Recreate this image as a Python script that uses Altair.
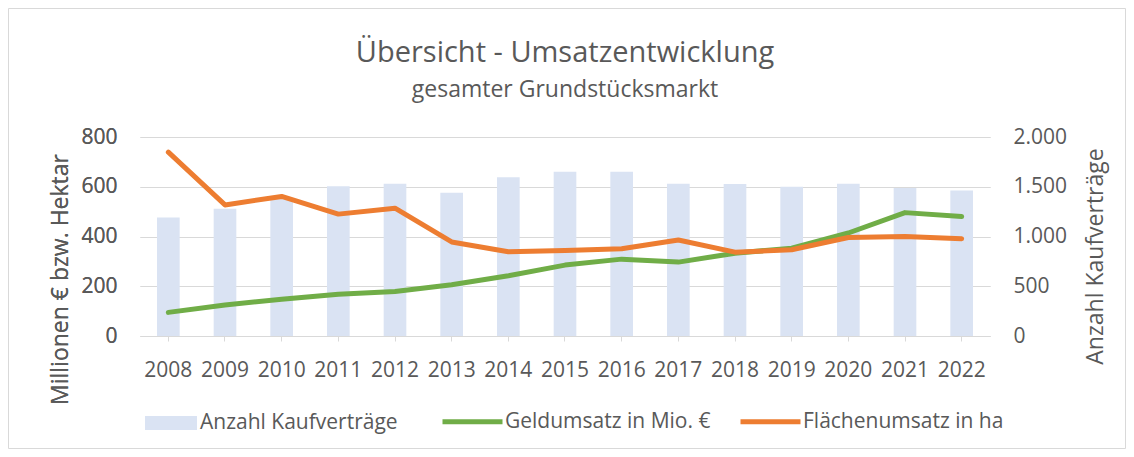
import altair as alt
import pandas as pd

years = [str(y) for y in range(2008, 2023)]
kaufvertraege = [1190, 1280, 1390, 1505, 1530, 1440, 1595, 1650, 1650, 1530, 1528, 1500, 1530, 1488, 1463]
geldumsatz = [95, 125, 148, 168, 179, 206, 242, 285, 309, 297, 333, 353, 414, 496, 480]
flaechenumsatz = [739, 527, 561, 490, 514, 378, 339, 344, 351, 386, 337, 347, 396, 400, 391]
series_names = ["Anzahl Kaufverträge", "Geldumsatz in Mio. €", "Flächenumsatz in ha"]
left_ticks = [0, 200, 400, 600, 800]
right_ticks = [0, 500, 1000, 1500, 2000]

FONT = "Open Sans"
TXT = "#595959"
GRID = "#d9d9d9"

bars_df = pd.DataFrame({"Jahr": years, "Wert": kaufvertraege, "Serie": series_names[0]})
lines_df = pd.concat([
    pd.DataFrame({"Jahr": years, "Wert": geldumsatz, "Serie": series_names[1]}),
    pd.DataFrame({"Jahr": years, "Wert": flaechenumsatz, "Serie": series_names[2]}),
], ignore_index=True)

x_enc = alt.X(
    "Jahr:N",
    title=None,
    sort=years,
    scale=alt.Scale(paddingInner=0.6, paddingOuter=0.3),
    axis=alt.Axis(
        labelAngle=0, labelFont=FONT, labelFontSize=21, labelColor=TXT,
        labelPadding=18, domainColor=GRID, domainWidth=1, tickColor=GRID,
        tickSize=5, grid=False,
    ),
)

bars = alt.Chart(bars_df).mark_bar().encode(
    x=x_enc,
    y=alt.Y(
        "Wert:Q",
        scale=alt.Scale(domain=[0, 2000], nice=False),
        axis=alt.Axis(
            orient="right", title="Anzahl Kaufverträge", values=right_ticks,
            labelExpr="replace(format(datum.value, ','), ',', '.')",
            grid=False, domain=False, ticks=False, labelPadding=23,
            labelFont=FONT, labelFontSize=21, labelColor=TXT,
            titleFont=FONT, titleFontSize=23, titleColor=TXT, titleFontWeight="normal",
            titleAngle=270, titleBaseline="alphabetic", titleAlign="center",
            titleX=112, titleY=119,
        ),
    ),
    fill=alt.Fill(
        "Serie:N",
        scale=alt.Scale(domain=[series_names[0]], range=["#dae3f3"]),
        legend=alt.Legend(
            title=None, orient="none", legendX=5, legendY=260,
            symbolType="M-1,-0.27L1,-0.27L1,0.27L-1,0.27Z", symbolSize=2704,
            symbolStrokeWidth=0, symbolOpacity=1,
            labelFont=FONT, labelFontSize=21, labelColor=TXT, labelOffset=3, labelLimit=400,
        ),
    ),
)

y_left = alt.Y(
    "Wert:Q",
    scale=alt.Scale(domain=[0, 800], nice=False),
    axis=alt.Axis(
        orient="left", title="Millionen € bzw. Hektar", values=left_ticks,
        grid=True, gridColor=GRID, gridWidth=1, domain=False, ticks=False,
        labelPadding=23, labelFont=FONT, labelFontSize=21, labelColor=TXT,
        titleFont=FONT, titleFontSize=23, titleColor=TXT, titleFontWeight="normal",
        titleAngle=270, titleBaseline="alphabetic", titleAlign="center",
        titleX=-73, titleY=142,
    ),
)

color_enc = alt.Color(
    "Serie:N",
    scale=alt.Scale(domain=series_names[1:], range=["#70ad47", "#ed7d31"]),
    legend=alt.Legend(
        title=None, orient="none", direction="horizontal", legendX=300, legendY=252,
        symbolType="stroke", symbolSize=3600, symbolStrokeWidth=5,
        columnPadding=19, labelFont=FONT, labelFontSize=21, labelColor=TXT,
        labelOffset=0, labelLimit=400,
    ),
)

line_geld = alt.Chart(lines_df).transform_filter(
    alt.datum.Serie == series_names[1]
).mark_line(strokeWidth=5, strokeCap="round", strokeJoin="round").encode(
    x=x_enc, y=y_left, color=color_enc
)
line_flaeche = alt.Chart(lines_df).transform_filter(
    alt.datum.Serie == series_names[2]
).mark_line(strokeWidth=5, strokeCap="round", strokeJoin="round").encode(
    x=x_enc, y=y_left, color=color_enc
)

border = alt.Chart(alt.Data(values=[{}])).mark_rect(
    filled=False, stroke=GRID, strokeWidth=1
).encode(
    x=alt.value(-131.5), x2=alt.value(985.5), y=alt.value(-128.5), y2=alt.value(311.5)
)

chart = alt.layer(border, bars, line_geld, line_flaeche).resolve_scale(
    y="independent"
).properties(
    width=850,
    height=199,
    autosize=alt.AutoSizeParams(type="none"),
    padding={"left": 132, "top": 129, "right": 136, "bottom": 113},
    title=alt.TitleParams(
        text="Übersicht - Umsatzentwicklung",
        subtitle="gesamter Grundstücksmarkt",
        font=FONT, fontSize=29, fontWeight="normal", color=TXT,
        subtitleFont=FONT, subtitleFontSize=23, subtitleColor=TXT,
        subtitlePadding=11, anchor="middle", offset=-94,
    ),
).configure_view(stroke=None)

chart.save("out.html", embed_options={"renderer": "svg", "actions": False})
